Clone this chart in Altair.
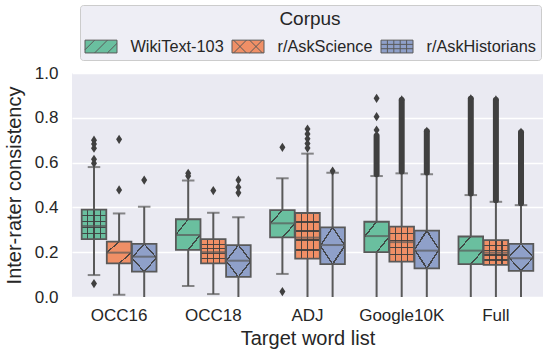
import altair as alt
import pandas as pd

# ---- data -----------------------------------------------------------------
lists = ["OCC16", "OCC18", "ADJ", "Google10K", "Full"]
corpora = ["WikiText-103", "r/AskScience", "r/AskHistorians"]

# box statistics, one row per word list, columns in corpus order
q1 = [[0.258, 0.150, 0.113], [0.210, 0.150, 0.090], [0.266, 0.171, 0.147],
      [0.200, 0.158, 0.128], [0.147, 0.143, 0.117]]
median = [[0.317, 0.198, 0.180], [0.277, 0.200, 0.162], [0.329, 0.265, 0.232],
          [0.272, 0.245, 0.207], [0.207, 0.198, 0.173]]
q3 = [[0.390, 0.247, 0.237], [0.347, 0.258, 0.232], [0.388, 0.375, 0.311],
      [0.336, 0.314, 0.296], [0.270, 0.254, 0.237]]
whisker_lo = [[0.098, 0.010, -0.05], [0.049, 0.013, -0.05], [0.103, -0.05, -0.05],
              [-0.05, -0.05, -0.05], [-0.05, -0.05, -0.05]]
whisker_hi = [[0.580, 0.373, 0.403], [0.520, 0.376, 0.356], [0.530, 0.640, 0.555],
              [0.540, 0.552, 0.548], [0.455, 0.425, 0.410]]
hatches = [["+", "/", "x"], ["/", "+", "x"], ["/", "+", "x"],
           ["/", "+", "x"], ["/", "+", "x"]]

# individual outliers
fliers = {
    ("OCC16", "WikiText-103"): [0.700, 0.683, 0.664, 0.615, 0.597, 0.060],
    ("OCC16", "r/AskScience"): [0.704, 0.478],
    ("OCC16", "r/AskHistorians"): [0.522],
    ("OCC18", "WikiText-103"): [0.552, 0.540],
    ("OCC18", "r/AskScience"): [0.475],
    ("OCC18", "r/AskHistorians"): [0.522, 0.490, 0.465],
    ("ADJ", "WikiText-103"): [0.668, 0.024],
    ("ADJ", "r/AskScience"): [0.750, 0.728, 0.706, 0.685, 0.665],
    ("ADJ", "r/AskHistorians"): [0.562],
    ("Google10K", "WikiText-103"): [0.887, 0.805, 0.745],
    ("Google10K", "r/AskScience"): [0.880],
    ("Google10K", "r/AskHistorians"): [0.740],
    ("Full", "WikiText-103"): [0.885],
    ("Full", "r/AskScience"): [0.880],
    ("Full", "r/AskHistorians"): [0.735],
}
# spans packed so densely with outliers that they merge into a solid bar
dense_fliers = {
    ("Google10K", "WikiText-103"): (0.548, 0.720),
    ("Google10K", "r/AskScience"): (0.560, 0.880),
    ("Google10K", "r/AskHistorians"): (0.556, 0.740),
    ("Full", "WikiText-103"): (0.462, 0.885),
    ("Full", "r/AskScience"): (0.432, 0.880),
    ("Full", "r/AskHistorians"): (0.418, 0.735),
}

palette = ["#6abf9f", "#f08f66", "#8fa0c9"]
GRAY = "#595959"
DARK = "#404040"

# ---- tables ---------------------------------------------------------------
rows = []
for i, lst in enumerate(lists):
    for j, corp in enumerate(corpora):
        rows.append(dict(list=lst, corpus=corp, q1=q1[i][j], med=median[i][j],
                         q3=q3[i][j], wlo=whisker_lo[i][j], whi=whisker_hi[i][j],
                         hatch=hatches[i][j]))
box_df = pd.DataFrame(rows)
flier_df = pd.DataFrame([dict(list=k[0], corpus=k[1], value=v)
                         for k, vals in fliers.items() for v in vals])
dense_df = pd.DataFrame([dict(list=k[0], corpus=k[1], lo=v[0], hi=v[1])
                         for k, v in dense_fliers.items()])

# ---- hatch fills as hard-stop gradients -------------------------------------
CLEAR = "rgba(0,0,0,0)"
INK = "rgba(60,60,60,0.9)"


def stripes(centres, half, x1, y1, x2, y2):
    stops = [{"offset": 0, "color": CLEAR}]
    for c in centres:
        a, b = max(0.0, c - half), min(1.0, c + half)
        stops += [{"offset": a, "color": CLEAR}, {"offset": a, "color": INK},
                  {"offset": b, "color": INK}, {"offset": b, "color": CLEAR}]
    stops.append({"offset": 1, "color": CLEAR})
    return {"gradient": "linear", "x1": x1, "y1": y1, "x2": x2, "y2": y2,
            "stops": stops}


hatch_fills = {
    "/": [stripes([0.25, 0.75], 0.018, 0, 0, 1, 1)],
    "x": [stripes([0.25, 0.75], 0.018, 0, 0, 1, 1),
          stripes([0.25, 0.75], 0.018, 0, 1, 1, 0)],
    "+": [stripes([0.25, 0.5, 0.75], 0.026, 0, 0, 1, 0),
          stripes([0.2, 0.4, 0.6, 0.8], 0.022, 0, 0, 0, 1)],
}

# legend swatches: a 32x13 box with the hatch drawn as strokes
RECT = "M-2,-0.8H2V0.8H-2Z"
swatches = [
    RECT + " M-2,0.4L-0.8,-0.8 M-0.8,0.8L0.8,-0.8 M0.8,0.8L2,-0.4",
    RECT + " M-1.8,-0.8L-0.2,0.8 M-1.8,0.8L-0.2,-0.8 M0.2,-0.8L1.8,0.8 M0.2,0.8L1.8,-0.8",
    RECT + " M-1.2,-0.8V0.8 M-0.4,-0.8V0.8 M0.4,-0.8V0.8 M1.2,-0.8V0.8 M-2,-0.27H2 M-2,0.27H2",
]
DIAMOND = "M0,-1L0.65,0L0,1L-0.65,0Z"

# ---- scales, axes, shared encodings ---------------------------------------
TEXT = "#262626"
yscale = alt.Scale(domain=[0, 1], nice=False, zero=False)
yaxis = alt.Axis(values=[0, 0.2, 0.4, 0.6, 0.8, 1.0], format=".1f", grid=True,
                 gridColor="white", gridWidth=1.3, domain=False, ticks=False,
                 labelFontSize=17, labelPadding=14, labelColor=TEXT,
                 titleFontSize=20, titlePadding=10, titleColor=TEXT,
                 titleFontWeight="normal")
xaxis = alt.Axis(labelAngle=0, domain=False, ticks=False, grid=False,
                 labelFontSize=17, labelPadding=10, labelColor=TEXT,
                 titleFontSize=20, titlePadding=5, titleColor=TEXT,
                 titleFontWeight="normal")
X = alt.X("list:N", sort=lists, title="Target word list", axis=xaxis,
          scale=alt.Scale(paddingInner=0, paddingOuter=0))
XO = alt.XOffset("corpus:N", sort=corpora,
                 scale=alt.Scale(paddingInner=0.02, paddingOuter=0.386))


def Y(field):
    return alt.Y(field, type="quantitative", scale=yscale, axis=yaxis,
                 title="Inter-rater consistency")


cscale = alt.Scale(domain=corpora, range=palette)
legend = alt.Legend(title="Corpus", orient="none", legendX=8, legendY=-68,
                    direction="horizontal", columns=3, titleAnchor="middle",
                    titleFontSize=19, titleFontWeight="normal", titleColor=TEXT,
                    titlePadding=9, labelFontSize=16.3, labelColor=TEXT,
                    symbolSize=256, symbolOffset=7.5,
                    labelOffset=21, columnPadding=6, padding=5,
                    fillColor="#eeeef5", strokeColor="#cccccc", cornerRadius=3,
                    symbolStrokeColor=GRAY, symbolStrokeWidth=1)

base = alt.Chart(box_df)

layers = []
# whiskers
layers.append(base.mark_rule(color=GRAY, strokeWidth=2, clip=True)
              .encode(x=X, xOffset=XO, y=Y("wlo"), y2="q1:Q"))
layers.append(base.mark_rule(color=GRAY, strokeWidth=2)
              .encode(x=X, xOffset=XO, y=Y("q3"), y2="whi:Q"))
# caps
for f in ["wlo", "whi"]:
    layers.append(base.mark_tick(color=GRAY, size=12.5, thickness=2, clip=True)
                  .encode(x=X, xOffset=XO, y=Y(f)))
# box bodies
layers.append(base.mark_bar(strokeWidth=0)
              .encode(x=X, xOffset=XO, y=Y("q1"), y2="q3:Q",
                      color=alt.Color("corpus:N", scale=cscale, legend=None)))
# hatching
for kind, grads in hatch_fills.items():
    for g in grads:
        layers.append(base.transform_filter(alt.datum.hatch == kind)
                      .mark_bar(fill=g, strokeWidth=0)
                      .encode(x=X, xOffset=XO, y=Y("q1"), y2="q3:Q"))
# box outlines
layers.append(base.mark_bar(fillOpacity=0, stroke=GRAY, strokeWidth=1.8)
              .encode(x=X, xOffset=XO, y=Y("q1"), y2="q3:Q"))
# medians
layers.append(base.mark_tick(color=GRAY, size=24.6, thickness=2)
              .encode(x=X, xOffset=XO, y=Y("med")))
# outliers
layers.append(alt.Chart(dense_df)
              .mark_rule(color=DARK, strokeWidth=6, strokeCap="round")
              .encode(x=X, xOffset=XO, y=Y("lo"), y2="hi:Q"))
layers.append(alt.Chart(flier_df)
              .mark_point(shape=DIAMOND, filled=True, size=85, color=DARK,
                          opacity=1)
              .encode(x=X, xOffset=XO, y=Y("value")))
# legend carrier (no visible marks)
layers.append(base.transform_filter("false")
              .mark_point(filled=True, opacity=1, stroke=GRAY, strokeWidth=1)
              .encode(x=X, xOffset=XO, y=Y("q1"),
                      color=alt.Color("corpus:N", scale=cscale, legend=legend),
                      shape=alt.Shape("corpus:N",
                                      scale=alt.Scale(domain=corpora, range=swatches),
                                      legend=legend)))

chart = (
    alt.layer(*layers)
    .resolve_legend(color="independent", shape="independent")
    .properties(width=471, height=224, background="white",
                padding={"left": 72, "top": 73, "right": 1, "bottom": 54},
                autosize=alt.AutoSizeParams(type="none"))
    .configure(font="Liberation Sans")
    .configure_view(fill="#eaeaf2", stroke=None)
)

chart.save("out.html", embed_options={"renderer": "svg", "actions": False})
